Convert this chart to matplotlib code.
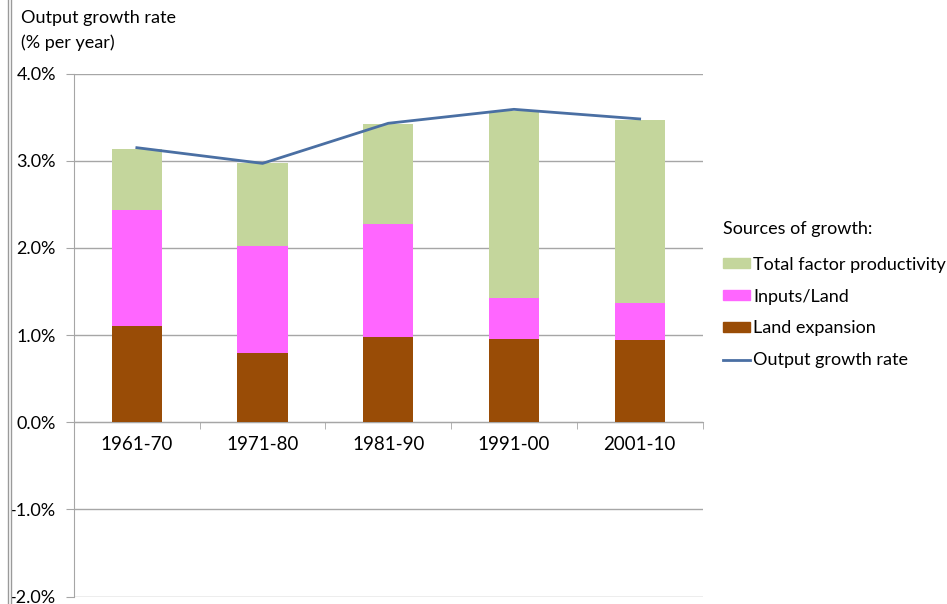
import matplotlib.pyplot as plt
from matplotlib.patches import Patch
from matplotlib.lines import Line2D
import numpy as np

plt.rcParams['font.family'] = ['Lato', 'DejaVu Sans']

periods = ['1961-70', '1971-80', '1981-90', '1991-00', '2001-10']
land_expansion = [1.11, 0.80, 0.98, 0.96, 0.94]
inputs_land = [1.33, 1.22, 1.30, 0.46, 0.43]
tfp = [0.70, 0.95, 1.14, 2.15, 2.10]
output_growth = [3.15, 2.97, 3.43, 3.59, 3.48]

c_land = '#994c06'
c_inputs = '#ff66ff'
c_tfp = '#c4d69c'
c_line = '#4a6fa3'
c_grid = '#a6a6a6'
fs = 13

fig = plt.figure(figsize=(9.47, 6.04), dpi=100)
ax = fig.add_axes([74 / 947, 7.4 / 604, 628.5 / 947, 523 / 604])

# spine placement first: it resets the ticks
for s in ['top', 'right']:
    ax.spines[s].set_visible(False)
ax.spines['left'].set_color(c_grid)
ax.spines['bottom'].set_position(('data', 0))
ax.spines['bottom'].set_color(c_grid)

x = np.arange(len(periods))
w = 0.4
land = np.array(land_expansion)
inp = np.array(inputs_land)
ax.bar(x, land, w, color=c_land, zorder=3)
ax.bar(x, inp, w, bottom=land, color=c_inputs, zorder=3)
ax.bar(x, tfp, w, bottom=land + inp, color=c_tfp, zorder=3)
ax.plot(x, output_growth, color=c_line, lw=2, zorder=4)

ax.set_xlim(-0.5, len(periods) - 0.5)
ax.set_ylim(-2, 4)
yt = np.arange(-2, 4.01, 1)
ax.set_yticks(yt)
ax.set_yticklabels([f'{v:.1f}%' for v in yt])
ax.yaxis.grid(True, color=c_grid, lw=1)
ax.set_axisbelow(True)

ax.set_xticks(x)
ax.set_xticklabels(periods)
ax.set_xticks(np.arange(-0.5, len(periods) + 0.5, 1), minor=True)
ax.tick_params(axis='x', which='major', length=0, pad=10, labelsize=13.5)
ax.tick_params(axis='x', which='minor', length=5, color=c_grid, direction='out')
ax.tick_params(axis='y', length=6, color=c_grid, pad=7, labelsize=13)

fig.text(21 / 947, 1 - 18 / 604, 'Output growth rate', fontsize=fs, va='center')
fig.text(21 / 947, 1 - 43 / 604, '(% per year)', fontsize=fs, va='center')

handles = [Patch(color=c_tfp), Patch(color=c_inputs), Patch(color=c_land),
           Line2D([0], [0], color=c_line, lw=2)]
labels = ['Total factor productivity', 'Inputs/Land', 'Land expansion', 'Output growth rate']
leg = fig.legend(handles, labels, loc='upper left',
                 bbox_to_anchor=(707 / 947, 1 - 205 / 604), frameon=False,
                 title='Sources of growth:', title_fontsize=fs, fontsize=fs,
                 handlelength=1.5, handleheight=0.5, handletextpad=0.15,
                 labelspacing=0.88)
leg._legend_box.align = 'left'
leg._legend_box.sep = 14

# window border on the left edge
for xp in (8, 11):
    fig.add_artist(Line2D([xp / 947, xp / 947], [0, 1], color='#9a9a9a', lw=1))

fig.savefig('out.png', dpi=100)
